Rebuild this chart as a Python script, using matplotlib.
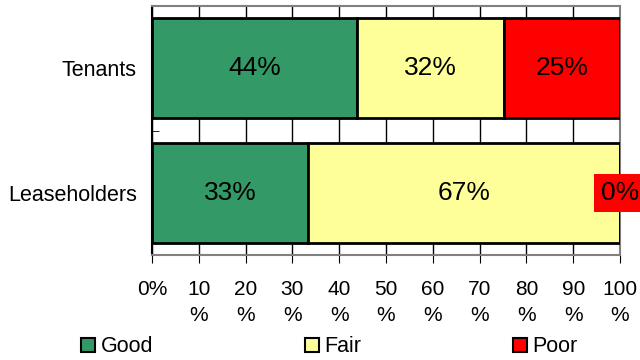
import matplotlib
matplotlib.use('Agg')
import matplotlib.pyplot as plt
import numpy as np
from matplotlib.patches import Patch

plt.rcParams['font.family'] = ['Liberation Sans', 'DejaVu Sans']

# 数据
groups = ['Tenants', 'Leaseholders']
series = ['Good', 'Fair', 'Poor']
good = [43.75, 33.33]
fair = [31.5, 66.67]
poor = [24.75, 0]
colors = ['#339966', '#FFFF99', '#FF0000']
xticks = list(range(0, 101, 10))
xtick_labels = ['0%'] + [f'{v}\n%' for v in xticks[1:]]

fig = plt.figure(figsize=(6.4, 3.6), dpi=100)
ax = fig.add_axes([152 / 640, 1 - 255 / 360, 468 / 640, 249 / 360])

ypos = np.arange(len(groups))
left = np.zeros(len(groups))
for name, vals, col in zip(series, [good, fair, poor], colors):
    vals = np.array(vals, dtype=float)
    ax.barh(ypos, vals, left=left, height=0.8, color=col,
            edgecolor='black', linewidth=2, label=name, zorder=3)
    for y, v, l in zip(ypos, vals, left):
        if v == 0:
            ax.text(l + v / 2, y, f'{v:.0f}%', ha='center', va='center',
                    fontsize=19, zorder=5, clip_on=False,
                    bbox=dict(facecolor=col, edgecolor='none', pad=5))
        else:
            ax.text(l + v / 2, y, f'{v:.0f}%', ha='center', va='center',
                    fontsize=19, zorder=5)
    left += vals

ax.set_xlim(0, 100)
ax.set_ylim(1.5, -0.5)
ax.set_xticks(xticks)
ax.set_xticklabels(xtick_labels, fontsize=15, linespacing=1.45)
ax.set_yticks(ypos)
ax.set_yticklabels(groups, fontsize=15.5)
ax.set_yticks([-0.5, 0.5, 1.5], minor=True)
ax.tick_params(axis='y', which='major', length=0, pad=11)
ax.tick_params(axis='y', which='minor', direction='in', length=5, color='black')
ax.tick_params(axis='x', direction='out', length=6, pad=12, color='black')
ax.xaxis.grid(True, color='black', linewidth=1, zorder=0)
ax.set_axisbelow(True)
for s in ['top', 'right', 'bottom']:
    ax.spines[s].set_color('#808080')
    ax.spines[s].set_linewidth(1.5)
ax.spines['left'].set_color('black')
ax.spines['left'].set_linewidth(1.5)

handles = [Patch(facecolor=c, edgecolor='black', linewidth=1.5) for c in colors]
fig.legend(handles, series, loc='center left', bbox_to_anchor=(81 / 640, 1 - 347 / 360),
           ncol=3, frameon=False, fontsize=15.5, handlelength=0.65, handleheight=0.65,
           handletextpad=0.25, columnspacing=7.05, borderaxespad=0, borderpad=0)

fig.savefig('out.png', dpi=100)
